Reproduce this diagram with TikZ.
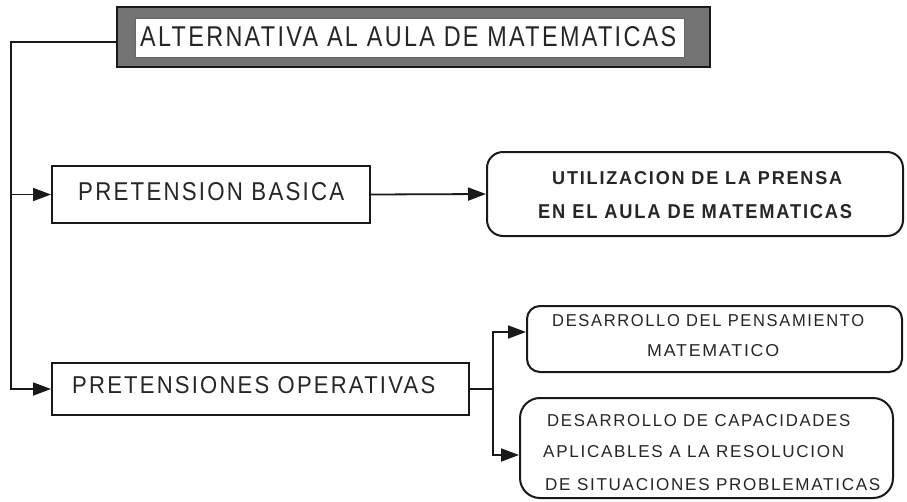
\documentclass[tikz,border=0pt]{standalone}
\usepackage{fontspec}
\setmainfont{Liberation Sans}[LetterSpace=10]
\usetikzlibrary{arrows.meta}
\newcommand{\fitt}[3]{\resizebox{#1pt}{#2pt}{#3}}
\begin{document}
\begin{tikzpicture}[x=1pt,y=-1pt,
  box/.style={draw=black!90, line width=2pt, inner sep=0pt, fill=white},
  rbox/.style={box, rounded corners=#1},
  txt/.style={inner sep=0pt, anchor=south west, text=black!85},
  ln/.style={draw=black!90, line width=1.8pt},
  arr/.style={-{Triangle[length=18pt,width=13pt]}}]
\useasboundingbox (0,0) rectangle (907,501);
% boxes
\node[box, fill=black!55, line width=1.6pt, minimum width=593pt, minimum height=60pt] (title) at (413.5,37) {};
\node[draw=black!60, line width=0.6pt, fill=white, inner sep=0pt, minimum width=549pt, minimum height=39pt] (tin) at (409.5,37.5) {};
\node[box, minimum width=318pt, minimum height=57pt] (pb) at (211,194.5) {};
\node[rbox=16pt, minimum width=416pt, minimum height=84pt] (ut) at (695,194) {};
\node[box, minimum width=417pt, minimum height=52pt] (po) at (260.5,389) {};
\node[rbox=13pt, minimum width=375pt, minimum height=66pt] (dpm) at (714.5,339) {};
\node[rbox=20pt, minimum width=373pt, minimum height=100pt] (dca) at (706.5,448) {};
% texts
\node[txt] (t1) at (140,47) {\fitt{536}{20}{ALTERNATIVA AL AULA DE MATEMATICAS}};
\node[txt] (t2) at (78,201) {\fitt{266}{18}{PRETENSION BASICA}};
\node[txt] (t3) at (552,185) {\fitt{290}{13}{\bfseries UTILIZACION DE LA PRENSA}};
\node[txt] (t4) at (538,219) {\fitt{314}{14}{\bfseries EN EL AULA DE MATEMATICAS}};
\node[txt] (t5) at (72,394) {\fitt{363}{17}{PRETENSIONES OPERATIVAS}};
\node[txt] (t6) at (552,327) {\fitt{312}{12}{DESARROLLO DEL PENSAMIENTO}};
\node[txt] (t7) at (647,357) {\fitt{132}{12}{MATEMATICO}};
\node[txt] (t8) at (547,427) {\fitt{303}{12}{DESARROLLO DE CAPACIDADES}};
\node[txt] (t9) at (543,458) {\fitt{301}{12}{APLICABLES A LA RESOLUCION}};
\node[txt] (t10) at (545,491) {\fitt{335}{12}{DE SITUACIONES PROBLEMATICAS}};
% connectors
\coordinate (tk) at (11,42);
\coordinate (sp) at (493,389);
\draw[ln,arr] ([yshift=-5pt]title.west) -- (tk) |- (po.west);
\draw[ln,arr] (tk |- pb.west) -- (pb.west);
\draw[ln,arr] (pb.east) -- (ut.west);
\draw[ln] (po.east) -- (sp);
\draw[ln,arr] (sp) |- ([yshift=7pt]dpm.west);
\draw[ln,arr] (sp) |- ([yshift=-7pt]dca.west);
\end{tikzpicture}
\end{document}
